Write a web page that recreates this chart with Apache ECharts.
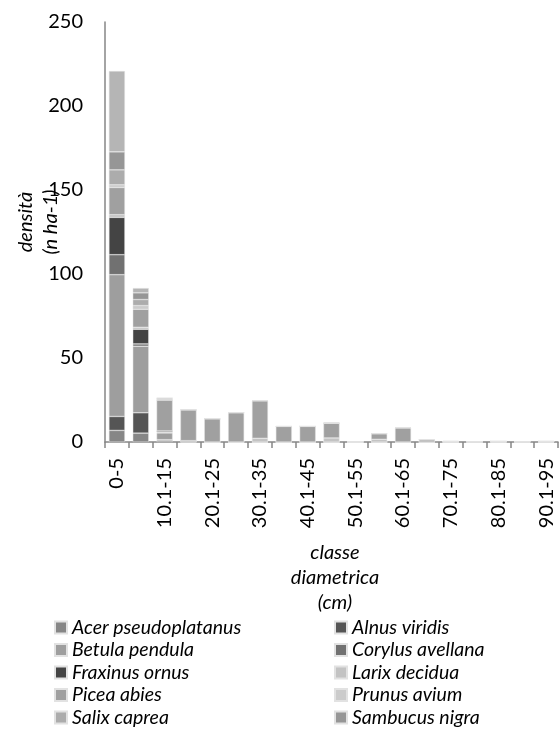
<!DOCTYPE html>
<html>
<head>
<meta charset="utf-8">
<script src="https://cdn.jsdelivr.net/npm/echarts@6/dist/echarts.min.js"></script>
<style>
  html, body { margin: 0; padding: 0; background: #fff; }
  #chart { width: 560px; height: 738px; }
</style>
</head>
<body>
<div id="chart"></div>
<script>
// Diameter classes (cm)
const categories = ['0-5', '5.1-10', '10.1-15', '15.1-20', '20.1-25', '25.1-30', '30.1-35', '35.1-40',
  '40.1-45', '45.1-50', '50.1-55', '55.1-60', '60.1-65', '65.1-70', '70.1-75', '75.1-80',
  '80.1-85', '85.1-90', '90.1-95'];

// Density per species (n ha-1), one value per diameter class
const acerPseudoplatanus = [6.9, 5.3, 0.8, 0, 0, 0, 0, 0, 0, 0, 0, 0, 0, 0, 0, 0, 0, 0, 0];
const alnusViridis       = [8.3, 12.1, 0.6, 0, 0, 0, 0, 0, 0, 0, 0, 0, 0, 0, 0, 0, 0, 0, 0];
const betulaPendula      = [84.4, 39.6, 4.0, 0.8, 0, 0, 0, 0, 0, 0, 0, 0, 0, 0, 0, 0, 0, 0, 0];
const corylusAvellana    = [11.9, 1.4, 0.4, 0, 0, 0, 0, 0, 0, 0, 0, 0, 0, 0, 0, 0, 0, 0, 0];
const fraxinusOrnus      = [22.2, 8.7, 0.8, 0, 0, 0, 0, 0, 0, 0, 0, 0, 0, 0, 0, 0, 0, 0, 0];
const larixDecidua       = [1.6, 1.2, 0, 0, 0, 0, 2.2, 0, 0, 2.4, 0, 1.6, 0, 0, 0, 0, 0, 0, 0];
const piceaAbies         = [16.2, 10.7, 18.4, 18.4, 13.9, 17.5, 22.4, 9.3, 9.3, 8.9, 0, 3.4, 8.5, 1.4, 0.4, 0.3, 0.4, 0.3, 0.4];
const prunusAvium        = [1.6, 2.2, 0, 0, 0, 0, 0, 0, 0, 0, 0, 0, 0, 0, 0, 0, 0, 0, 0];
const salixCaprea        = [8.9, 3.6, 0.6, 0, 0, 0, 0, 0, 0, 0, 0, 0, 0, 0, 0, 0, 0, 0, 0];
const sambucusNigra      = [10.7, 4.0, 0.6, 0, 0, 0, 0, 0, 0, 0, 0, 0, 0, 0, 0, 0, 0, 0, 0];
const altreSpecie        = [48.1, 2.8, 0, 0, 0, 0, 0, 0, 0, 0, 0, 0, 0, 0, 0, 0, 0, 0, 0];

const speciesNames = ['Acer pseudoplatanus', 'Alnus viridis', 'Betula pendula', 'Corylus avellana',
  'Fraxinus ornus', 'Larix decidua', 'Picea abies', 'Prunus avium', 'Salix caprea', 'Sambucus nigra',
  'altre specie'];
const speciesData = [acerPseudoplatanus, alnusViridis, betulaPendula, corylusAvellana, fraxinusOrnus,
  larixDecidua, piceaAbies, prunusAvium, salixCaprea, sambucusNigra, altreSpecie];
const speciesColors = ['#868686', '#555555', '#9e9e9e', '#717171', '#444444', '#c3c3c3',
  '#a0a0a0', '#cbcbcb', '#acacac', '#969696', '#b5b5b5'];

const yTicks = { min: 0, max: 250, interval: 50 };

const FONT = 'Lato, "Open Sans", sans-serif';

const chart = echarts.init(document.getElementById('chart'), null, { renderer: 'canvas' });

const series = speciesNames.map((name, i) => ({
  name: name,
  type: 'bar',
  stack: 'densita',
  barWidth: 16,
  data: speciesData[i],
  itemStyle: { color: speciesColors[i], borderColor: '#e2e2e2', borderWidth: 0.5 },
  emphasis: { disabled: true }
}));

const legendText = { fontFamily: FONT, fontStyle: 'italic', fontSize: 19.5, color: '#000', lineHeight: 21 };

chart.setOption({
  animation: false,
  color: speciesColors,
  grid: { left: 105, right: 2, top: 22, bottom: 296, containLabel: false },
  xAxis: {
    type: 'category',
    data: categories,
    boundaryGap: true,
    axisLine: { lineStyle: { color: '#868686', width: 1.5 } },
    axisTick: { show: true, interval: 0, length: 6, lineStyle: { color: '#868686', width: 1.5 } },
    axisLabel: { interval: 1, rotate: 90, margin: 16, color: '#000', fontFamily: FONT, fontSize: 20 },
    splitLine: { show: false }
  },
  yAxis: {
    type: 'value',
    min: yTicks.min, max: yTicks.max, interval: yTicks.interval,
    axisLine: { show: true, lineStyle: { color: '#868686', width: 1.5 } },
    axisTick: { show: false },
    axisLabel: { margin: 22, color: '#000', fontFamily: FONT, fontSize: 20 },
    splitLine: { show: false }
  },
  legend: [
    {
      orient: 'vertical', left: 54, top: 617, padding: 0,
      itemWidth: 12, itemHeight: 12, itemGap: 1.5,
      icon: 'rect',
      data: ['Acer pseudoplatanus', 'Betula pendula', 'Fraxinus ornus', 'Picea abies', 'Salix caprea'],
      textStyle: legendText,
      selectedMode: false
    },
    {
      orient: 'vertical', left: 334, top: 617, padding: 0,
      itemWidth: 12, itemHeight: 12, itemGap: 1.5,
      icon: 'rect',
      data: ['Alnus viridis', 'Corylus avellana', 'Larix decidua', 'Prunus avium', 'Sambucus nigra'],
      textStyle: legendText,
      selectedMode: false
    }
  ],
  graphic: [
    {
      type: 'text',
      x: 38, y: 222,
      rotation: Math.PI / 2,
      style: {
        text: 'densità\n(n ha-1)',
        font: 'italic 20px ' + FONT,
        lineHeight: 25,
        fill: '#000',
        align: 'center',
        verticalAlign: 'middle'
      }
    },
    {
      type: 'text',
      x: 335, y: 540,
      style: {
        text: 'classe\ndiametrica\n(cm)',
        font: 'italic 20px ' + FONT,
        lineHeight: 25,
        fill: '#000',
        align: 'center',
        verticalAlign: 'top'
      }
    }
  ],
  series: series
});
</script>
</body>
</html>
